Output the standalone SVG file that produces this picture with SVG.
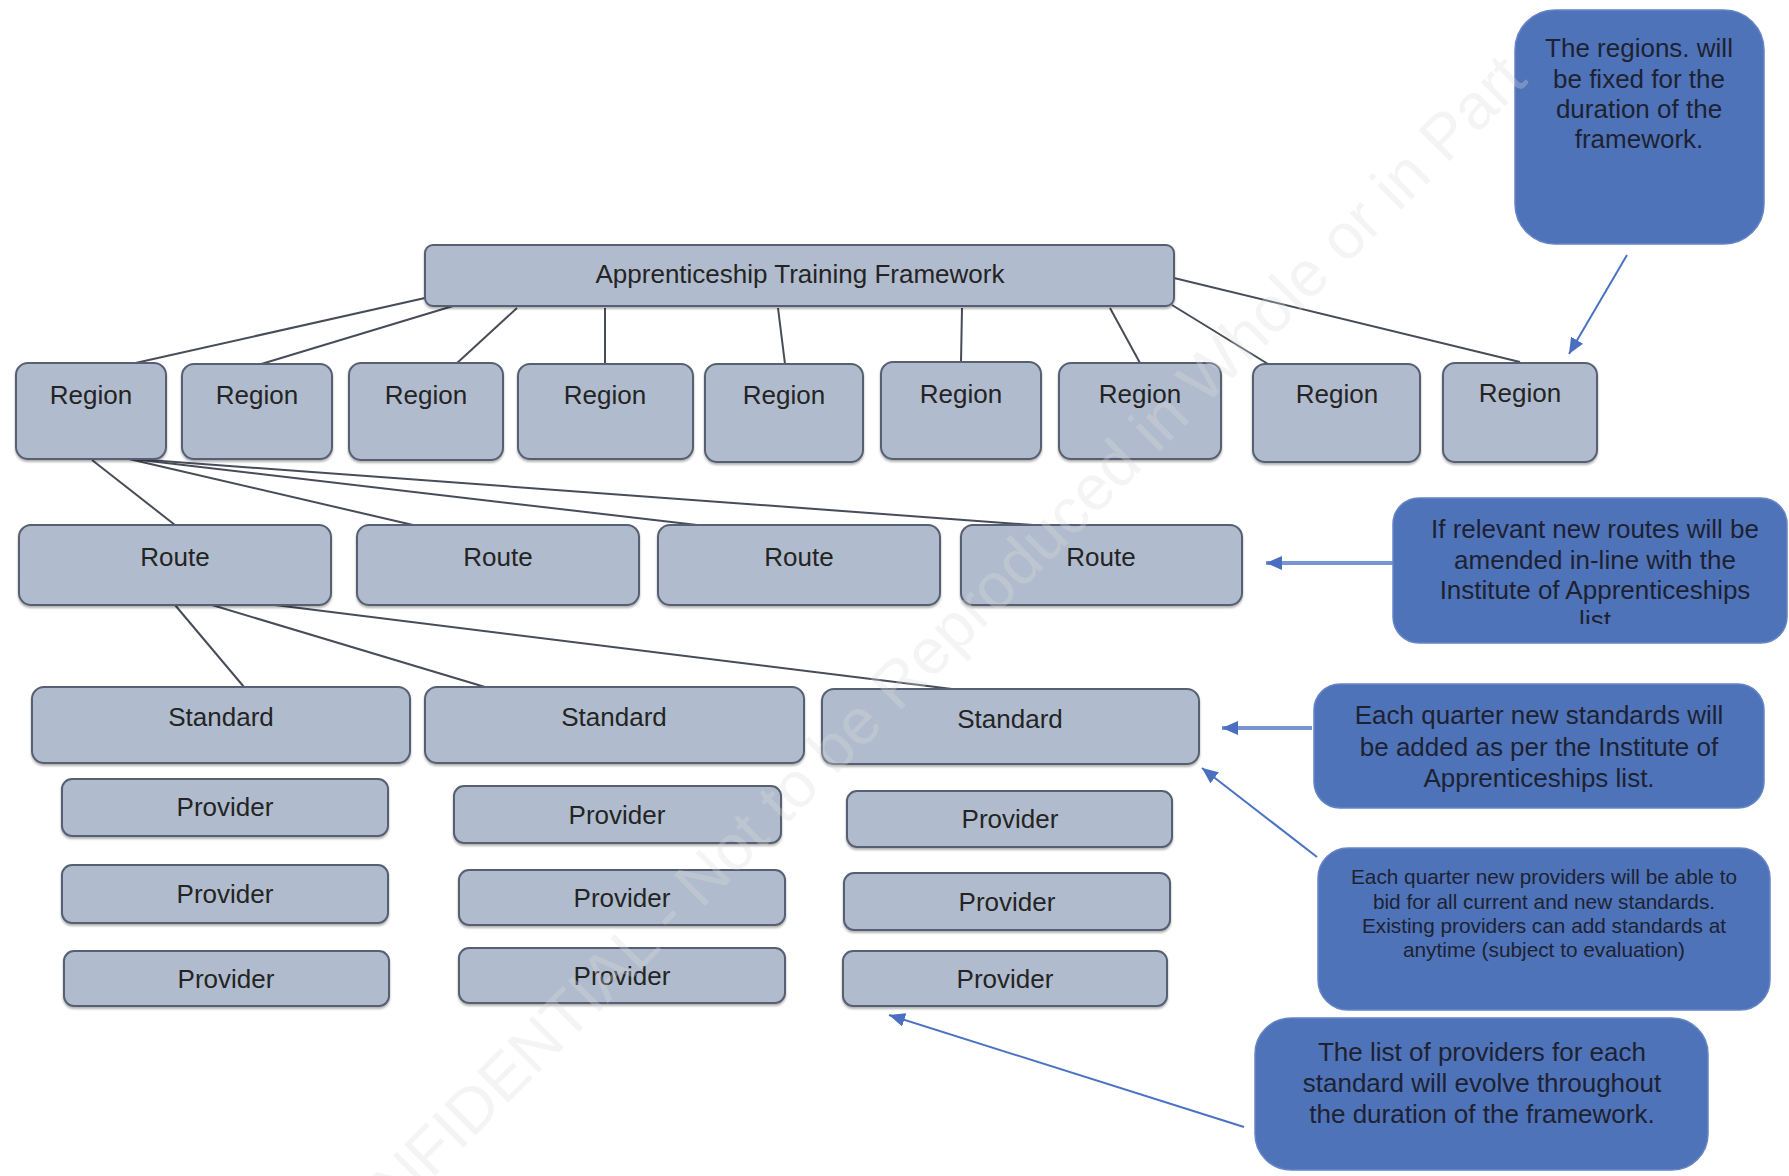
<svg xmlns="http://www.w3.org/2000/svg" width="1789" height="1176" viewBox="0 0 1789 1176">
<defs>
<style>
.node rect{fill:#b0bccd;stroke:#576072;stroke-width:2;filter:url(#sh)}
.node text{font-family:"Liberation Sans",Arial,sans-serif;font-size:26px;fill:#242424;text-anchor:middle}
.note rect{fill:#4f73b8;stroke:#6585c6;stroke-width:1.5}
.note text{font-family:"Liberation Sans",Arial,sans-serif;font-size:26px;fill:#1d2233;text-anchor:middle}
.conn line{stroke:#464c58;stroke-width:2}
.arr line{stroke:#4a72c4;stroke-width:2;marker-end:url(#ah)}
.arr line.thick{stroke:#7896d2;stroke-width:4}
.wm{font-family:"Liberation Sans",Arial,sans-serif;font-size:64px;fill:#dcdcdc;opacity:0.3}
</style>
<filter id="sh" x="-5%" y="-10%" width="110%" height="130%">
<feDropShadow dx="0" dy="2" stdDeviation="1" flood-color="#000" flood-opacity="0.3"/>
</filter>
<marker id="ah" markerUnits="userSpaceOnUse" markerWidth="18" markerHeight="14" refX="16" refY="7" orient="auto">
<path d="M0,0 L16,7 L0,14 Z" fill="#4a6fc0"/>
</marker>
<clipPath id="clipList"><rect x="1393" y="498" width="396" height="126"/></clipPath>
</defs>
<rect width="1789" height="1176" fill="#ffffff"/>

<g id="connectors" class="conn">
<line x1="425" y1="298" x2="131" y2="364"/>
<line x1="453" y1="306" x2="258" y2="365"/>
<line x1="517" y1="308" x2="456" y2="364"/>
<line x1="605" y1="308" x2="605" y2="364"/>
<line x1="778" y1="308" x2="785" y2="364"/>
<line x1="962" y1="308" x2="961" y2="362"/>
<line x1="1110" y1="308" x2="1140" y2="363"/>
<line x1="1172" y1="305" x2="1268" y2="364"/>
<line x1="1174" y1="278" x2="1520" y2="362"/>
<line x1="92" y1="460" x2="175" y2="525"/>
<line x1="129" y1="459" x2="413" y2="525"/>
<line x1="132" y1="459" x2="697" y2="525"/>
<line x1="135" y1="459" x2="1033" y2="525"/>
<line x1="175" y1="605" x2="244" y2="687"/>
<line x1="212" y1="605" x2="485" y2="687"/>
<line x1="275" y1="605" x2="952" y2="689"/>
</g>

<g id="arrows" class="arr">
<line x1="1627" y1="255" x2="1569" y2="354"/>
<line class="thick" x1="1393" y1="563" x2="1266" y2="563"/>
<line class="thick" x1="1312" y1="728" x2="1222" y2="728"/>
<line x1="1317" y1="857" x2="1202" y2="768"/>
<line x1="1244" y1="1127" x2="889" y2="1015"/>
</g>

<g id="n-framework" class="node"><rect x="425" y="245" width="749" height="61" rx="8"/><text x="800" y="283">Apprenticeship Training Framework</text></g>

<g id="n-region1" class="node"><rect x="16" y="363" width="150" height="96" rx="12"/><text x="91" y="404">Region</text></g>
<g id="n-region2" class="node"><rect x="182" y="364" width="150" height="95" rx="12"/><text x="257" y="404">Region</text></g>
<g id="n-region3" class="node"><rect x="349" y="363" width="154" height="97" rx="12"/><text x="426" y="404">Region</text></g>
<g id="n-region4" class="node"><rect x="518" y="364" width="175" height="95" rx="12"/><text x="605" y="404">Region</text></g>
<g id="n-region5" class="node"><rect x="705" y="364" width="158" height="98" rx="12"/><text x="784" y="404">Region</text></g>
<g id="n-region6" class="node"><rect x="881" y="362" width="160" height="97" rx="12"/><text x="961" y="403">Region</text></g>
<g id="n-region7" class="node"><rect x="1059" y="363" width="162" height="96" rx="12"/><text x="1140" y="403">Region</text></g>
<g id="n-region8" class="node"><rect x="1253" y="364" width="167" height="98" rx="12"/><text x="1337" y="403">Region</text></g>
<g id="n-region9" class="node"><rect x="1443" y="363" width="154" height="99" rx="12"/><text x="1520" y="402">Region</text></g>

<g id="n-route1" class="node"><rect x="19" y="525" width="312" height="80" rx="12"/><text x="175" y="566">Route</text></g>
<g id="n-route2" class="node"><rect x="357" y="525" width="282" height="80" rx="12"/><text x="498" y="566">Route</text></g>
<g id="n-route3" class="node"><rect x="658" y="525" width="282" height="80" rx="12"/><text x="799" y="566">Route</text></g>
<g id="n-route4" class="node"><rect x="961" y="525" width="281" height="80" rx="12"/><text x="1101" y="566">Route</text></g>

<g id="n-standard1" class="node"><rect x="32" y="687" width="378" height="76" rx="12"/><text x="221" y="726">Standard</text></g>
<g id="n-standard2" class="node"><rect x="425" y="687" width="379" height="76" rx="12"/><text x="614" y="726">Standard</text></g>
<g id="n-standard3" class="node"><rect x="822" y="689" width="377" height="75" rx="12"/><text x="1010" y="728">Standard</text></g>

<g id="n-provider1a" class="node"><rect x="62" y="779" width="326" height="57" rx="10"/><text x="225" y="816">Provider</text></g>
<g id="n-provider1b" class="node"><rect x="62" y="865" width="326" height="58" rx="10"/><text x="225" y="903">Provider</text></g>
<g id="n-provider1c" class="node"><rect x="64" y="951" width="325" height="55" rx="10"/><text x="226" y="988">Provider</text></g>
<g id="n-provider2a" class="node"><rect x="454" y="786" width="327" height="57" rx="10"/><text x="617" y="824">Provider</text></g>
<g id="n-provider2b" class="node"><rect x="459" y="870" width="326" height="55" rx="10"/><text x="622" y="907">Provider</text></g>
<g id="n-provider2c" class="node"><rect x="459" y="948" width="326" height="55" rx="10"/><text x="622" y="985">Provider</text></g>
<g id="n-provider3a" class="node"><rect x="847" y="791" width="325" height="56" rx="10"/><text x="1010" y="828">Provider</text></g>
<g id="n-provider3b" class="node"><rect x="844" y="873" width="326" height="57" rx="10"/><text x="1007" y="911">Provider</text></g>
<g id="n-provider3c" class="node"><rect x="843" y="951" width="324" height="55" rx="10"/><text x="1005" y="988">Provider</text></g>

<g id="note-regions" class="note"><rect x="1515" y="10" width="249" height="234" rx="40"/>
<text x="1639" y="57">The regions. will</text>
<text x="1639" y="88">be fixed for the</text>
<text x="1639" y="118">duration of the</text>
<text x="1639" y="148">framework.</text></g>

<g id="note-routes" class="note"><rect x="1393" y="498" width="394" height="145" rx="26"/>
<text x="1595" y="538">If relevant new routes will be</text>
<text x="1595" y="569">amended in-line with the</text>
<text x="1595" y="599">Institute of Apprenticeships</text>
<text x="1595" y="629" clip-path="url(#clipList)">list</text></g>

<g id="note-standards" class="note"><rect x="1314" y="684" width="450" height="124" rx="26"/>
<text x="1539" y="724">Each quarter new standards will</text>
<text x="1539" y="756">be added as per the Institute of</text>
<text x="1539" y="787">Apprenticeships list.</text></g>

<g id="note-providers" class="note"><rect x="1318" y="848" width="452" height="162" rx="30"/>
<text x="1544" y="884" style="font-size:20.8px">Each quarter new providers will be able to</text>
<text x="1544" y="909" style="font-size:20.8px">bid for all current and new standards.</text>
<text x="1544" y="933" style="font-size:20.8px">Existing providers can add standards at</text>
<text x="1544" y="957" style="font-size:20.8px">anytime (subject to evaluation)</text></g>

<g id="note-list" class="note"><rect x="1255" y="1018" width="453" height="152" rx="36"/>
<text x="1482" y="1061">The list of providers for each</text>
<text x="1482" y="1092">standard will evolve throughout</text>
<text x="1482" y="1123">the duration of the framework.</text></g>

<text class="wm" x="331" y="1280" transform="rotate(-45 331 1280)">CONFIDENTIAL - Not to be Reproduced in Whole or in Part</text>
</svg>
